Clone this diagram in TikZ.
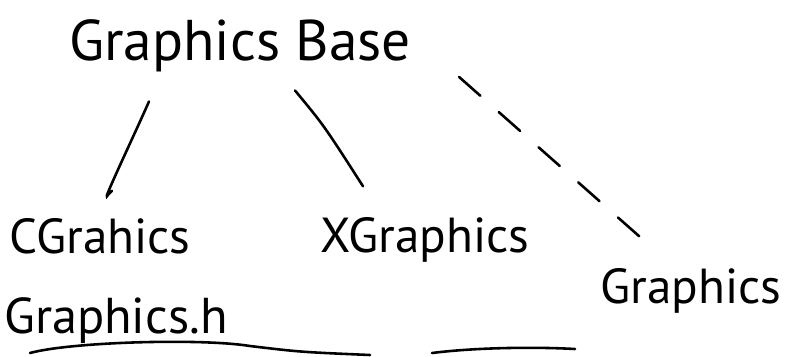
\documentclass[tikz,border=0pt]{standalone}
\usepackage{fontspec}
\setmainfont{PT Sans}
\usetikzlibrary{positioning}

\begin{document}
\begin{tikzpicture}[x=0.03cm, y=-0.03cm, line width=2.2pt, line cap=round,
  every node/.style={inner sep=0pt},
  title/.style={font=\fontsize{49}{56}\selectfont},
  cls/.style={font=\fontsize{42}{50}\selectfont},
  sketchdash/.style={dash pattern=on 0.85cm off 0.74cm}]
\path[use as bounding box] (0,0) rectangle (786,356);
\node[title] (base) at (240,46) {Graphics Base};
\node[cls] (cgr) at (100,236) {CGrahics};
\node[cls] (xgr) at (425,240) {XGraphics};
\node[cls] (gr) at (691,291) {Graphics};
\node[cls, font=\fontsize{43}{50}\selectfont] (hdr) at (116,321) {Graphics.h};
\draw ([shift={(-91,28)}]base.south) .. controls ([shift={(-105,60)}]base.south) and ([shift={(0,-10)}]cgr.north) .. ([shift={(8,-22)}]cgr.north) -- ([shift={(12,-26)}]cgr.north);
\draw ([shift={(55,17)}]base.south) .. controls ([shift={(84,52)}]base.south) .. ([shift={(-62,-30)}]xgr.north);
\draw[sketchdash] ([shift={(47,31)}]base.east) -- ([shift={(-45,-25)}]gr.north);
% underline of the header file
\draw (30,353) .. controls (70,342) and (200,338) .. (250,346) .. controls (300,352) .. (370,355);
\draw (432,353) .. controls (480,347) and (540,347) .. (575,349);
\end{tikzpicture}
\end{document}
